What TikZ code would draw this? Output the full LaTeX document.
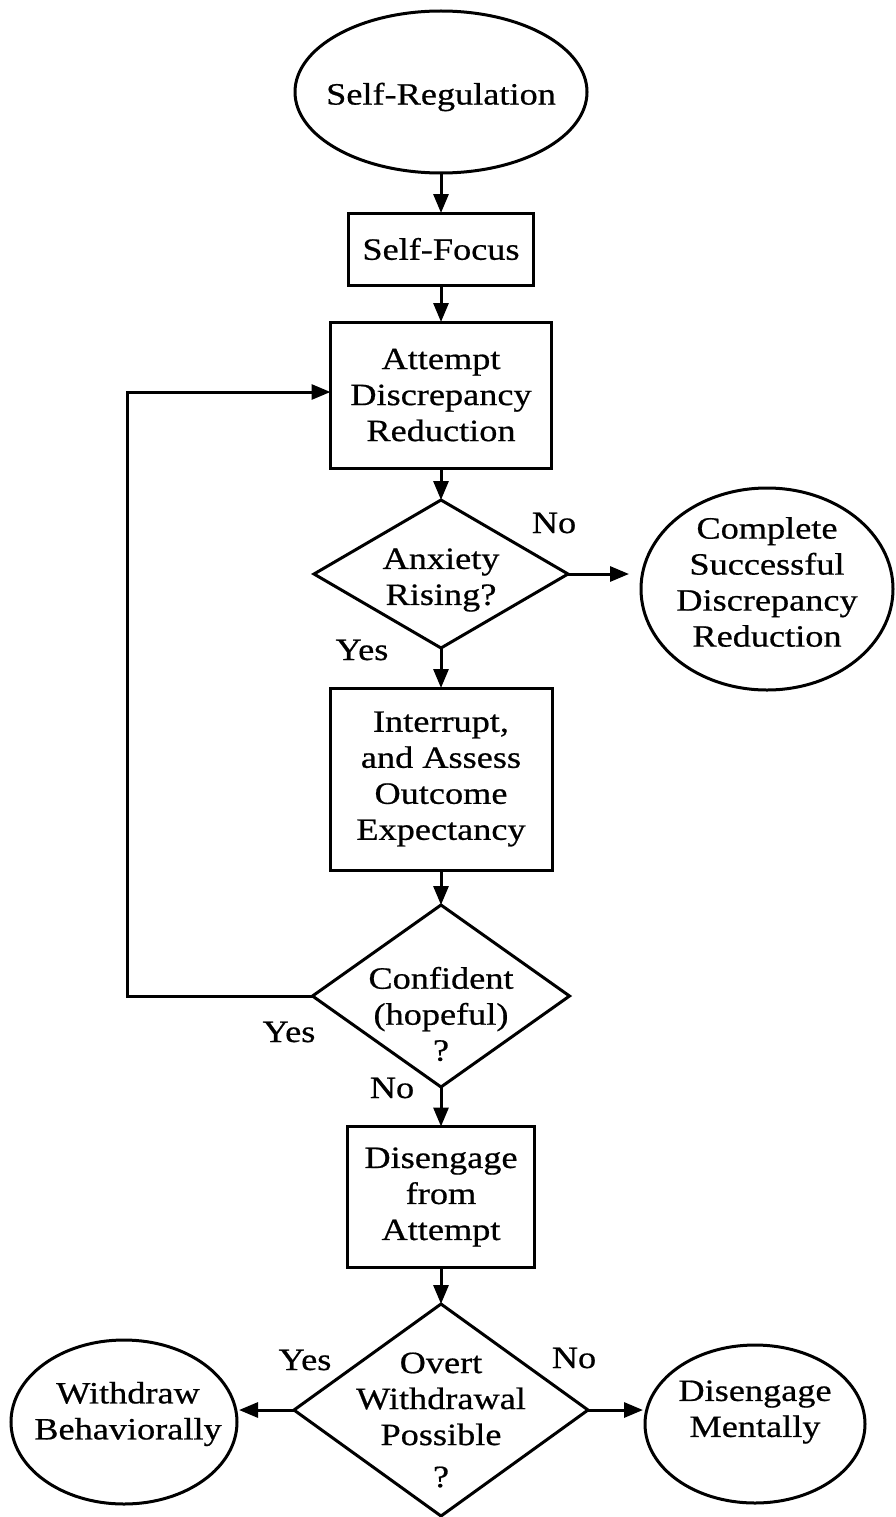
\documentclass[tikz,border=0pt]{standalone}
\usepackage{fontspec}
\newfontfamily\figfont[FakeStretch=1.17,FakeBold=0.6]{Liberation Serif}
\usetikzlibrary{shapes.geometric,arrows.meta}
\begin{document}
\begin{tikzpicture}[x=1bp,y=-1bp,
  line width=3bp,
  every node/.style={inner sep=0pt, outer sep=0pt},
  txt/.style={font=\figfont\fontsize{31bp}{36bp}\selectfont, align=center},
  term/.style={draw, ellipse},
  stepbox/.style={draw, rectangle, txt},
  decision/.style={draw, diamond},
  flow/.style={-{Triangle[length=19bp,width=15bp]}},
  answer/.style={txt}
]
\path[use as bounding box, fill=white] (0,0) rectangle (895,1517);

% --- main column ---
\node[term, minimum width=292bp, minimum height=162bp] (sr) at (441,92) {};
\node[txt] (srt) at (441,97) {Self-Regulation};

\node[stepbox, minimum width=185bp, minimum height=72bp] (sf) at (441,249) {Self-Focus};

\node[stepbox, minimum width=221bp, minimum height=146bp] (ad) at (441,395)
  {Attempt\\Discrepancy\\Reduction};

\node[decision, minimum width=254bp, minimum height=148bp] (ar) at (441,574) {};
\node[txt] (art) at (441,580) {Anxiety\\Rising?};

\node[term, minimum width=252bp, minimum height=202bp] (cs) at (767,589) {};
\node[txt] (cst) at (767,582) {Complete\\Successful\\Discrepancy\\Reduction};

\node[stepbox, minimum width=222bp, minimum height=182bp] (ia) at (441,779)
  {Interrupt,\\and Assess\\Outcome\\Expectancy};

\node[decision, minimum width=257bp, minimum height=182bp] (ch) at (441,996) {};
\node[txt] (cht) at (441,1014) {Confident\\(hopeful)\\?};

\node[stepbox, minimum width=187bp, minimum height=141bp] (da) at (441,1197)
  {Disengage\\from\\Attempt};

\node[decision, minimum width=294bp, minimum height=212bp] (ow) at (441,1410) {};
\node[txt] (owt) at (441,1420) {Overt\\Withdrawal\\Possible\\[6bp]?};

\node[term, minimum width=226bp, minimum height=164bp] (wb) at (124,1422) {};
\node[txt] (wbt) at (128,1414) {Withdraw\\Behaviorally};

\node[term, minimum width=220bp, minimum height=158bp] (dm) at (755,1424) {};
\node[txt] (dmt) at (755,1412) {Disengage\\Mentally};

% --- branch labels ---
\node[answer] (arno)  at (554,523)  {No};
\node[answer] (aryes) at (362,650)  {Yes};
\node[answer] (chyes) at (289,1032) {Yes};
\node[answer] (chno)  at (392,1088) {No};
\node[answer] (owyes) at (305,1360) {Yes};
\node[answer] (owno)  at (574,1358) {No};

% --- connectors ---
\draw[flow] (sr.south) -- (sf.north);
\draw[flow] (sf.south) -- (ad.north);
\draw[flow] (ad.south) -- (ar.north);
\draw[flow, shorten >=12bp] (ar.east) -- (ar.east -| cs.west);
\draw[flow] (ar.south) -- (ia.north);
\draw[flow] (ia.south) -- (ch.north);
\draw[flow] (ch.south) -- (da.north);
\draw[flow] (da.south) -- (ow.north);
\draw[flow, shorten >=2bp] (ow.west) -- (ow.west -| wb.east);
\draw[flow, shorten >=2bp] (ow.east) -- (ow.east -| dm.west);

\coordinate (loop) at (127,392);
\draw[flow] (ch.west) -| (loop) -- (loop -| ad.west);
\end{tikzpicture}
\end{document}
